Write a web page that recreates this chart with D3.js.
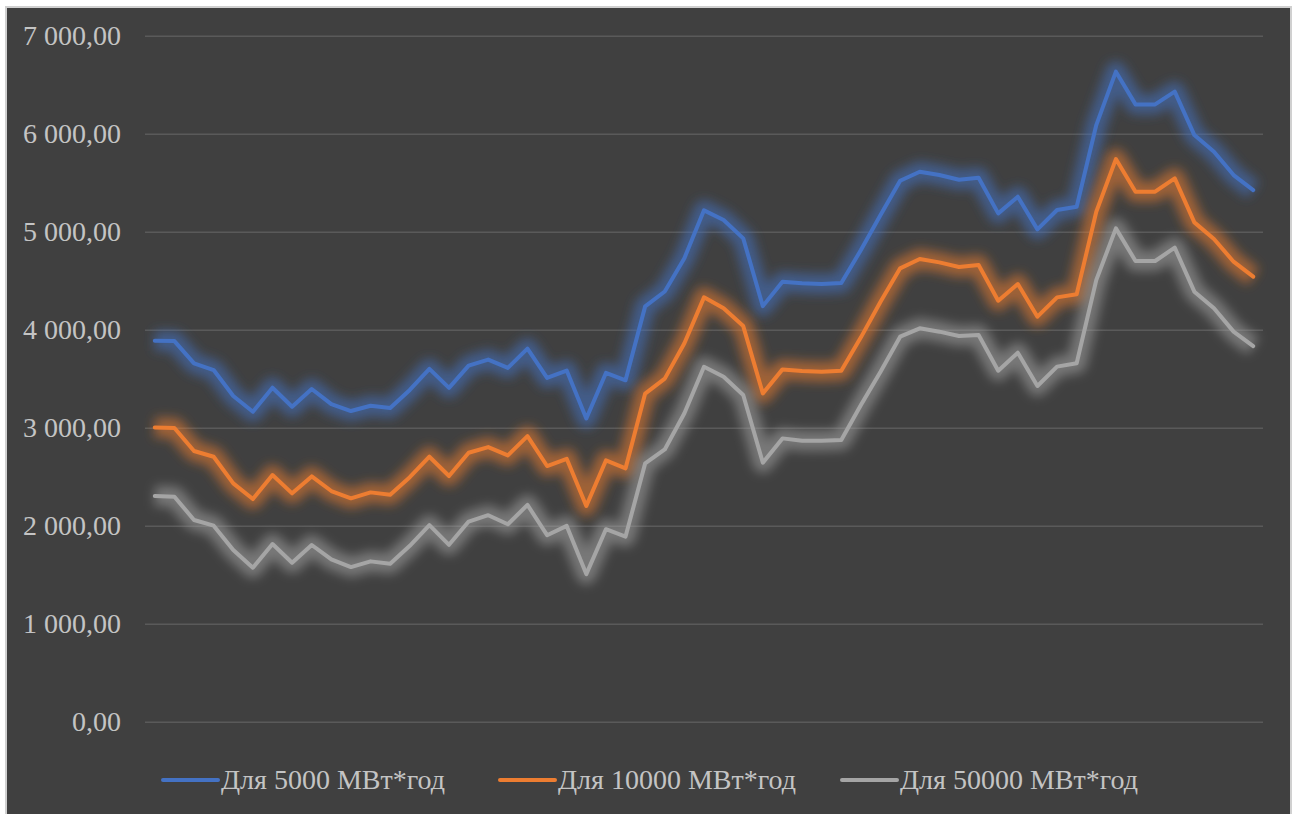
<!DOCTYPE html>
<html>
<head>
<meta charset="utf-8">
<script src="https://cdn.jsdelivr.net/npm/d3@7"></script>
<style>
  html, body { margin: 0; padding: 0; background: #ffffff; }
  svg { display: block; }
</style>
</head>
<body>
<svg id="chart" width="1297" height="814"></svg>
<script>
// Cost series for three annual consumption volumes (57 periods)
const seriesNames = ["Для 5000 МВт*год", "Для 10000 МВт*год", "Для 50000 МВт*год"];
const seriesColors = ["#4472C4", "#ED7D31", "#A5A5A5"];

const values5000 = [
  3888, 3884, 3656, 3588, 3323, 3163, 3408, 3214, 3395, 3241,
  3170, 3224, 3201, 3385, 3600, 3406, 3633, 3695, 3610, 3807,
  3508, 3583, 3094, 3559, 3484, 4238, 4390, 4730, 5218, 5119,
  4932, 4241, 4490, 4473, 4466, 4476, 4813, 5170, 5520, 5612,
  5578, 5530, 5551, 5187, 5357, 5024, 5221, 5255, 6088, 6633,
  6299, 6299, 6429, 5986, 5816, 5578, 5425
];
const values10000 = [
  3003, 2997, 2762, 2704, 2432, 2272, 2517, 2330, 2503, 2354,
  2279, 2340, 2316, 2495, 2704, 2507, 2744, 2802, 2717, 2914,
  2609, 2683, 2202, 2666, 2585, 3348, 3501, 3861, 4330, 4218,
  4037, 3350, 3595, 3578, 3571, 3582, 3922, 4286, 4626, 4721,
  4687, 4640, 4660, 4296, 4466, 4133, 4330, 4361, 5204, 5741,
  5408, 5408, 5544, 5095, 4925, 4694, 4541
];
const values50000 = [
  2303, 2296, 2058, 2000, 1752, 1571, 1813, 1622, 1803, 1656,
  1578, 1636, 1612, 1795, 2005, 1805, 2042, 2107, 2015, 2212,
  1903, 1998, 1506, 1964, 1889, 2636, 2778, 3147, 3622, 3520,
  3333, 2643, 2891, 2867, 2867, 2874, 3231, 3571, 3929, 4014,
  3980, 3935, 3946, 3582, 3765, 3426, 3623, 3657, 4507, 5034,
  4701, 4701, 4837, 4388, 4218, 3980, 3833
];
const yTicks = [0, 1000, 2000, 3000, 4000, 5000, 6000, 7000];

const allSeries = [values5000, values10000, values50000];

const svg = d3.select("#chart");
const W = 1297, H = 814;
const plot = { left: 145, right: 1263, top: 35.7, bottom: 721.7 };

// Chart area background and frame
svg.append("rect")
  .attr("x", 6).attr("y", 7)
  .attr("width", 1285).attr("height", H)
  .attr("fill", "#404040")
  .attr("stroke", "#d0d0d0")
  .attr("stroke-width", 2);

const defs = svg.append("defs");
defs.append("filter")
  .attr("id", "glow")
  .attr("x", "-10%").attr("y", "-30%")
  .attr("width", "120%").attr("height", "160%")
  .append("feGaussianBlur")
  .attr("stdDeviation", 5.5);

const x = d3.scaleBand()
  .domain(d3.range(values5000.length))
  .range([plot.left, plot.right])
  .paddingInner(0).paddingOuter(0);

const y = d3.scaleLinear()
  .domain([0, 7000])
  .range([plot.bottom, plot.top]);

const locale = d3.formatLocale({ decimal: ",", thousands: "\u00a0", grouping: [3], currency: ["", ""] });
const fmt = locale.format(",.2f");

// Horizontal gridlines
const yAxis = d3.axisLeft(y)
  .tickValues(yTicks)
  .tickSize(-(plot.right - plot.left))
  .tickFormat(fmt)
  .tickPadding(24);

const gy = svg.append("g")
  .attr("transform", `translate(${plot.left},0)`)
  .call(yAxis);
gy.select(".domain").remove();
gy.selectAll(".tick line")
  .attr("stroke", "#5a5a5a")
  .attr("stroke-width", 1.5);
gy.selectAll(".tick text")
  .attr("fill", "#c4c4c4")
  .attr("font-family", "'Liberation Serif', 'Times New Roman', serif")
  .attr("font-size", 28)
  .attr("dy", "0.33em");

const line = d3.line()
  .x((d, i) => x(i) + x.bandwidth() / 2)
  .y(d => y(d));

// Soft halo under each series, then the crisp line on top
const lines = svg.append("g");
allSeries.forEach((vals, k) => {
  lines.append("path")
    .datum(vals)
    .attr("d", line)
    .attr("fill", "none")
    .attr("stroke", seriesColors[k])
    .attr("stroke-width", 20)
    .attr("stroke-opacity", 0.55)
    .attr("stroke-linejoin", "round")
    .attr("filter", "url(#glow)");
});
allSeries.forEach((vals, k) => {
  lines.append("path")
    .datum(vals)
    .attr("d", line)
    .attr("fill", "none")
    .attr("stroke", seriesColors[k])
    .attr("stroke-width", 4)
    .attr("stroke-linejoin", "round")
    .attr("stroke-linecap", "round");
});

// Legend
const legendX = [163, 500, 842];
const legend = svg.append("g");
seriesNames.forEach((name, k) => {
  const g = legend.append("g").attr("transform", `translate(${legendX[k]},780)`);
  g.append("line")
    .attr("x1", 0).attr("x2", 55)
    .attr("y1", 0).attr("y2", 0)
    .attr("stroke", seriesColors[k])
    .attr("stroke-width", 4)
    .attr("stroke-linecap", "round");
  g.append("text")
    .attr("x", 58).attr("y", 0)
    .attr("dy", "0.33em")
    .attr("fill", "#c4c4c4")
    .attr("font-family", "'Liberation Serif', 'Times New Roman', serif")
    .attr("font-size", 28)
    .text(name);
});
</script>
</body>
</html>
